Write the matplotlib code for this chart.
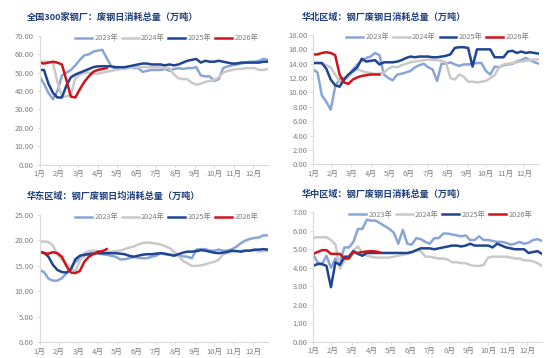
import numpy as np
import matplotlib
matplotlib.use("Agg")
import matplotlib.pyplot as plt

plt.rcParams['font.family'] = ['Noto Sans CJK SC', 'DejaVu Sans']

years = ["2023年", "2024年", "2025年", "2026年"]
months = ["1月", "2月", "3月", "4月", "5月", "6月", "7月", "8月", "9月", "10月", "11月", "12月"]

# ---- 全国300家钢厂 ----
nat_2023 = [48, 44, 39, 35.5, 40, 48.5, 50, 51.5, 54, 57, 59.5, 60, 61.5, 62, 62.5, 58, 53.5, 52, 52.5, 53,
            53, 52.5, 52.5, 50.5, 51, 51.5, 51.5, 51.5, 52, 51, 52, 52.5, 52, 52.5, 52.5, 53, 48.5, 48, 48, 45.5,
            46.5, 52.5, 53.5, 54, 54.5, 55, 55.5, 56, 56, 56.5, 57.5, 57]
nat_2024 = [56, 56, 56, 55.5, 45, 37, 37, 38, 47, 49, 50, 50, 49.5, 49.5, 50, 50.5, 51, 51.5, 52, 52,
            52.5, 53, 53, 53, 53, 53, 53, 53, 52.5, 52.5, 49, 47, 46.5, 46.5, 44.5, 43.5, 44, 45, 45.5, 46,
            47.5, 50, 51, 51.5, 52, 52, 52.5, 52.5, 52.5, 51.5, 51.5, 52]
nat_2025 = [51.5, 51.5, 44, 39, 36.5, 36.5, 43, 47.5, 49, 50, 51, 52, 53, 53.5, 53.5, 53.5, 53.5, 53, 53, 53,
            53.5, 54, 54.5, 55, 55, 54.5, 54.5, 54.5, 54, 54.5, 54, 54.5, 55.5, 56.5, 57, 57.5, 55.5, 56.5, 56, 56,
            56.5, 56, 55.5, 55, 55, 55.5, 55.5, 55.5, 55.5, 55.5, 56, 56]
nat_2026 = [55.5, 55, 55.5, 56, 55.5, 54.5, 46, 37, 36.5, 41, 45, 48, 50.5, 51.5, 52, 52.5]

# ---- 华北区域 ----
nb_2023 = [13.2, 12.8, 9.6, 8.7, 7.6, 10.8, 11.9, 12.0, 12.3, 13.2, 13.9, 14.4, 14.8, 15.0, 15.5, 15.2, 12.5, 12.0, 11.7, 12.5,
           12.6, 12.8, 13.0, 13.5, 13.8, 14.0, 13.5, 13.2, 11.6, 14.0, 14.0, 14.2, 13.9, 13.7, 13.9, 13.9, 14.0, 14.1, 14.1, 13.0,
           12.5, 13.6, 13.5, 13.8, 13.9, 14.0, 14.3, 14.5, 14.8, 14.5, 14.2, 14.0]
nb_2024 = [14.1, 14.1, 14.0, 13.8, 13.5, 12.5, 11.5, 11.6, 12.2, 12.8, 13.2, 13.0, 12.8, 12.7, 12.6, 12.6, 12.8, 13.3, 13.6, 13.5,
           13.8, 14.0, 14.2, 14.3, 14.4, 14.5, 14.6, 14.5, 14.5, 14.4, 14.2, 12.0, 11.8, 12.5, 12.2, 11.5, 11.5, 11.4, 11.5, 11.6,
           12.0, 12.4, 13.5, 13.9, 14.0, 14.1, 14.2, 14.3, 14.4, 14.5, 14.6, 14.6]
nb_2025 = [14.1, 14.1, 14.1, 13.3, 11.8, 11.0, 10.8, 11.8, 12.5, 13.0, 13.5, 14.7, 14.3, 14.4, 14.5, 13.9, 14.2, 14.2, 14.2, 14.3,
           14.5, 14.8, 15.0, 14.9, 15.0, 15.0, 15.0, 14.9, 14.9, 15.0, 15.1, 15.3, 16.2, 16.3, 16.3, 16.2, 13.6, 16.0, 16.0, 16.0,
           16.0, 14.9, 14.9, 14.9, 15.7, 15.8, 15.5, 15.7, 15.5, 15.6, 15.5, 15.4]
nb_2026 = [15.3, 15.3, 15.5, 15.6, 15.5, 15.2, 12.5, 11.4, 11.2, 11.8, 12.1, 12.3, 12.4, 12.5, 12.5, 12.5]

# ---- 华东区域 ----
hd_2023 = [14.2, 13.8, 12.5, 12.1, 12.1, 12.6, 13.5, 14.5, 15.8, 16.5, 17.0, 17.5, 17.7, 17.5, 17.3, 17.2, 17.0, 16.8, 16.3, 16.3,
           16.5, 16.8, 16.6, 16.5, 16.5, 16.8, 17.0, 17.5, 17.3, 17.2, 17.2, 17.0, 16.9, 16.8, 16.5, 18.2, 18.3, 18.3, 18.0, 18.0,
           18.2, 18.0, 18.0, 18.3, 18.8, 19.5, 20.0, 20.3, 20.5, 20.6, 21.0, 21.0]
hd_2024 = [19.8, 19.8, 19.7, 19.0, 17.2, 16.2, 15.5, 14.5, 14.0, 16.0, 17.5, 17.9, 18.0, 17.9, 17.8, 17.7, 17.8, 17.9, 18.0, 18.3,
           18.6, 18.8, 19.2, 19.5, 19.6, 19.5, 19.4, 19.2, 18.9, 18.5, 17.8, 17.0, 16.0, 15.5, 15.0, 15.0, 15.1, 15.3, 15.6, 15.8,
           16.2, 17.3, 17.5, 17.8, 17.9, 18.0, 18.0, 18.0, 18.0, 17.8, 17.9, 18.0]
hd_2025 = [17.8, 17.6, 16.8, 15.2, 14.2, 13.8, 13.7, 14.3, 16.3, 17.0, 17.2, 17.3, 17.4, 17.5, 17.5, 17.5, 17.5, 17.5, 17.4, 17.3,
           17.0, 16.8, 17.0, 17.2, 17.3, 17.3, 17.4, 17.5, 17.4, 17.2, 17.0, 17.3, 17.6, 17.8, 17.8, 17.9, 18.1, 18.0, 17.8, 17.6,
           17.5, 17.6, 17.8, 18.0, 17.9, 17.8, 18.0, 18.0, 18.2, 18.2, 18.3, 18.2]
hd_2026 = [17.8, 17.5, 17.4, 17.7, 17.5, 16.8, 15.0, 13.7, 13.6, 14.0, 15.8, 16.8, 17.3, 17.8, 17.9, 18.3]

# ---- 华中区域 ----
hz_2023 = [4.75, 4.3, 4.2, 4.65, 4.0, 4.5, 4.3, 5.1, 5.1, 5.4, 6.1, 6.1, 6.6, 6.55, 6.55, 6.4, 6.25, 6.1, 5.9, 5.3,
           6.05, 5.3, 5.25, 5.6, 5.55, 5.4, 5.3, 5.6, 5.6, 5.85, 5.85, 5.8, 5.75, 5.7, 5.75, 5.5, 5.5, 5.7, 5.5, 5.5,
           5.45, 5.4, 5.4, 5.35, 5.25, 5.3, 5.4, 5.3, 5.35, 5.5, 5.55, 5.45]
hz_2024 = [5.6, 5.65, 5.65, 5.65, 5.5, 5.25, 3.95, 4.4, 4.6, 4.95, 5.15, 4.8, 4.65, 4.6, 4.55, 4.55, 4.55, 4.55, 4.6, 4.65,
           4.7, 4.75, 4.8, 4.95, 4.9, 4.6, 4.6, 4.55, 4.5, 4.5, 4.45, 4.3, 4.3, 4.25, 4.25, 4.15, 4.1, 4.1, 4.15, 4.55,
           4.6, 4.6, 4.6, 4.6, 4.55, 4.5, 4.5, 4.4, 4.4, 4.35, 4.25, 4.1]
hz_2025 = [4.1, 4.2, 4.2, 4.1, 2.95, 4.3, 4.15, 4.6, 4.6, 4.9, 4.75, 4.65, 4.8, 4.8, 4.8, 4.8, 4.8, 4.8, 4.8, 4.8,
           4.8, 4.8, 4.85, 4.95, 5.05, 5.05, 5.05, 5.0, 5.05, 5.1, 5.15, 5.2, 5.2, 5.15, 5.2, 5.3, 5.2, 5.2, 5.2, 5.2,
           5.1, 5.3, 5.2, 5.1, 5.05, 5.0, 5.0, 5.0, 4.8, 4.85, 4.9, 4.75]
hz_2026 = [4.75, 4.85, 4.95, 4.95, 4.75, 4.75, 4.75, 4.5, 4.5, 4.85, 4.8, 4.85, 4.88, 4.9, 4.88, 4.82]

panels = [
    dict(title="全国300家钢厂：废钢日消耗总量（万吨）", data=[nat_2023, nat_2024, nat_2025, nat_2026],
         ymax=70, step=10, rect=[39.5, 36, 268, 164.5], tpos=(27, 17)),
    dict(title="华北区域：钢厂废钢日消耗总量（万吨）", data=[nb_2023, nb_2024, nb_2025, nb_2026],
         ymax=18, step=2, rect=[313, 35, 539, 164.3], tpos=(302, 17)),
    dict(title="华东区域：钢厂废钢日均消耗总量（万吨）", data=[hd_2023, hd_2024, hd_2025, hd_2026],
         ymax=25, step=5, rect=[39.5, 215, 268, 342.3], tpos=(27, 196)),
    dict(title="华中区域：钢厂废钢日消耗总量（万吨）", data=[hz_2023, hz_2024, hz_2025, hz_2026],
         ymax=7, step=1, rect=[313, 212.3, 542, 341.7], tpos=(302, 194)),
]

colors = ["#89a5d8", "#c9c9c9", "#1f4592", "#d0141b"]
W, H = 554, 358
fig = plt.figure(figsize=(W / 100, H / 100), dpi=100)
fig.patch.set_facecolor("white")
spine_c = "#d9d9d9"
tick_c = "#7f7f7f"

for p in panels:
    l, t, r, b = p["rect"]
    ax = fig.add_axes([l / W, 1 - b / H, (r - l) / W, (b - t) / H])
    for i, series in enumerate(p["data"]):
        x = np.arange(len(series)) * 12 / 52
        ax.plot(x, series, color=colors[i], lw=1.8, label=years[i], solid_joinstyle="round")
    ax.set_xlim(0, 51 * 12 / 52)
    ax.set_ylim(0, p["ymax"])
    yt = np.arange(0, p["ymax"] + 0.001, p["step"])
    ax.set_yticks(yt)
    ax.set_yticklabels([f"{v:.2f}" for v in yt], fontsize=5.5, color=tick_c)
    ax.set_xticks(np.arange(12))
    ax.set_xticklabels(months, fontsize=5.5, color=tick_c)
    ax.tick_params(axis="both", length=2, width=0.6, color=spine_c, pad=2)
    for s in ["top", "right"]:
        ax.spines[s].set_visible(False)
    for s in ["left", "bottom"]:
        ax.spines[s].set_color(spine_c)
        ax.spines[s].set_linewidth(0.8)
    ax.legend(loc="upper right", bbox_to_anchor=(0.97, 1.035), ncol=4, frameon=False,
              fontsize=5.3, handlelength=2.3, handletextpad=0.3, columnspacing=0.5,
              labelcolor=tick_c, borderaxespad=0)
    fig.text(p["tpos"][0] / W, 1 - p["tpos"][1] / H, p["title"], fontsize=6.6,
             fontweight="bold", color="#1f3f7a", va="center", ha="left")

fig.savefig("out.png", dpi=100, facecolor="white")
